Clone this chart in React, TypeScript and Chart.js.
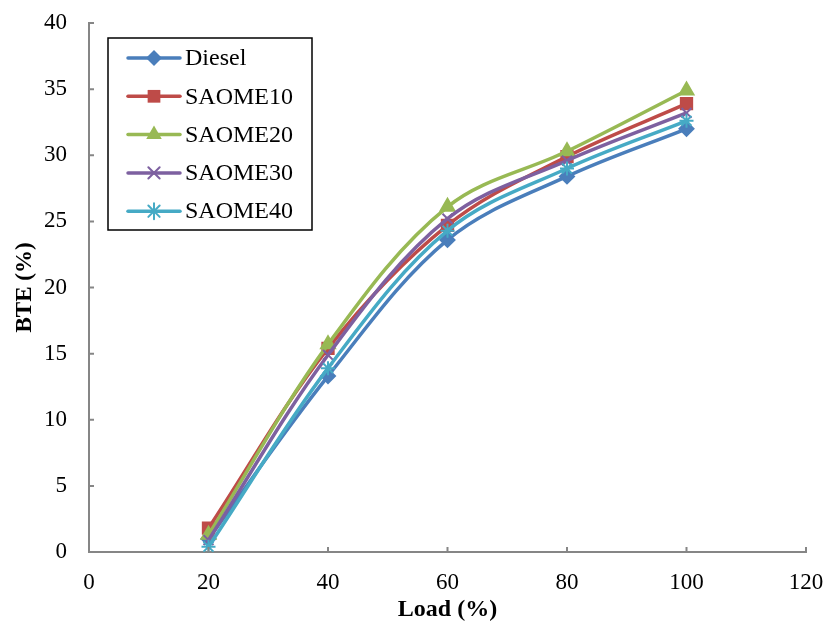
import React, { useEffect, useRef } from "react";
import { Chart, registerables } from "chart.js";

Chart.register(...registerables);

const loads = [20, 40, 60, 80, 100];
const diesel = [1.0, 13.3, 23.6, 28.4, 32.0];
const saome10 = [1.8, 15.4, 24.7, 29.9, 33.9];
const saome20 = [1.3, 15.7, 26.1, 30.3, 34.9];
const saome30 = [0.9, 14.9, 25.2, 29.6, 33.2];
const saome40 = [0.4, 13.9, 24.3, 29.0, 32.6];

const seriesNames = ["Diesel", "SAOME10", "SAOME20", "SAOME30", "SAOME40"];
const seriesValues = [diesel, saome10, saome20, saome30, saome40];
const seriesColors = ["#4A7EBB", "#BE4B48", "#98B954", "#7D60A0", "#46AAC5"];
const seriesStyles = ["rectRot", "rect", "triangle", "crossRot", "star"];
const seriesRadius = [7, 8, 8, 7, 7];

const xTicks = [0, 20, 40, 60, 80, 100, 120];
const yTicks = [0, 5, 10, 15, 20, 25, 30, 35, 40];

const FONT = "'Liberation Serif', 'Times New Roman', serif";
const AXIS_COLOR = "#868686";

function drawMarker(ctx: CanvasRenderingContext2D, style: string, x: number, y: number, r: number, color: string) {
  ctx.save();
  ctx.fillStyle = color;
  ctx.strokeStyle = color;
  ctx.lineWidth = 2;
  ctx.beginPath();
  if (style === "rectRot") {
    ctx.moveTo(x, y - r);
    ctx.lineTo(x + r, y);
    ctx.lineTo(x, y + r);
    ctx.lineTo(x - r, y);
    ctx.closePath();
    ctx.fill();
  } else if (style === "rect") {
    const s = r * Math.SQRT1_2;
    ctx.rect(x - s, y - s, 2 * s, 2 * s);
    ctx.fill();
  } else if (style === "triangle") {
    ctx.moveTo(x, y - r);
    ctx.lineTo(x + r * 0.866, y + r * 0.5);
    ctx.lineTo(x - r * 0.866, y + r * 0.5);
    ctx.closePath();
    ctx.fill();
  } else if (style === "crossRot") {
    const d = r * Math.SQRT1_2;
    ctx.moveTo(x - d, y - d);
    ctx.lineTo(x + d, y + d);
    ctx.moveTo(x + d, y - d);
    ctx.lineTo(x - d, y + d);
    ctx.stroke();
  } else if (style === "star") {
    const d = r * Math.SQRT1_2;
    ctx.moveTo(x - d, y - d);
    ctx.lineTo(x + d, y + d);
    ctx.moveTo(x + d, y - d);
    ctx.lineTo(x - d, y + d);
    ctx.moveTo(x, y - r);
    ctx.lineTo(x, y + r);
    ctx.stroke();
  }
  ctx.restore();
}

const decorPlugin = {
  id: "decor",
  afterDraw(chart: any) {
    const ctx: CanvasRenderingContext2D = chart.ctx;
    const xs = chart.scales.x;
    const ys = chart.scales.y;
    const area = chart.chartArea;
    ctx.save();
    ctx.strokeStyle = AXIS_COLOR;
    ctx.lineWidth = 2;
    ctx.beginPath();
    xTicks.forEach((v) => {
      const px = xs.getPixelForValue(v);
      ctx.moveTo(px, area.bottom);
      ctx.lineTo(px, area.bottom - 5);
    });
    yTicks.forEach((v) => {
      const py = ys.getPixelForValue(v);
      ctx.moveTo(area.left, py);
      ctx.lineTo(area.left + 5, py);
    });
    ctx.stroke();

    // legend box
    const bx = 108, by = 38, bw = 204, bh = 192;
    ctx.fillStyle = "#ffffff";
    ctx.fillRect(bx, by, bw, bh);
    ctx.strokeStyle = "#000000";
    ctx.lineWidth = 1.5;
    ctx.strokeRect(bx, by, bw, bh);
    ctx.font = "24px " + FONT;
    ctx.textBaseline = "middle";
    ctx.textAlign = "left";
    seriesNames.forEach((name, i) => {
      const cy = 58 + i * 38.3;
      ctx.strokeStyle = seriesColors[i];
      ctx.lineWidth = 3.5;
      ctx.lineCap = "round";
      ctx.beginPath();
      ctx.moveTo(128, cy);
      ctx.lineTo(180, cy);
      ctx.stroke();
      drawMarker(ctx, seriesStyles[i], 154, cy, seriesRadius[i] + 1, seriesColors[i]);
      ctx.fillStyle = "#000000";
      ctx.fillText(name, 185, cy + 1);
    });
    ctx.restore();
  },
};

export default function App() {
  const ref = useRef<HTMLCanvasElement>(null);
  useEffect(() => {
    if (!ref.current) return;
    const datasets = seriesNames.map((name, i) => ({
      label: name,
      data: loads.map((x, j) => ({ x, y: seriesValues[i][j] })),
      borderColor: seriesColors[i],
      backgroundColor: seriesColors[i],
      borderWidth: 3.5,
      pointStyle: seriesStyles[i],
      pointRadius: seriesRadius[i],
      pointBorderWidth: 2,
      pointBackgroundColor: seriesColors[i],
      pointBorderColor: seriesColors[i],
      tension: 0.35,
      order: seriesNames.length - i,
    }));
    const chart = new Chart(ref.current, {
      type: "scatter",
      data: { datasets },
      options: {
        responsive: false,
        animation: false,
        showLine: true,
        layout: { padding: { left: 0, top: 23, right: 21, bottom: 0 } },
        plugins: { legend: { display: false }, tooltip: { enabled: false } },
        scales: {
          x: {
            type: "linear",
            min: 0,
            max: 120,
            afterBuildTicks: (s: any) => {
              s.ticks = xTicks.map((v) => ({ value: v }));
            },
            afterFit: (s: any) => {
              s.height = 72;
              s.paddingLeft = 0;
              s.paddingRight = 0;
            },
            grid: { display: false, drawTicks: false },
            border: { display: true, color: AXIS_COLOR, width: 2 },
            ticks: {
              color: "#000",
              font: { family: FONT, size: 23 },
              padding: 17,
              maxRotation: 0,
            },
            title: {
              display: true,
              text: "Load (%)",
              color: "#000",
              font: { family: FONT, size: 24, weight: "bold" },
              padding: 0,
            },
          },
          y: {
            type: "linear",
            min: 0,
            max: 40,
            afterBuildTicks: (s: any) => {
              s.ticks = yTicks.map((v) => ({ value: v }));
            },
            afterFit: (s: any) => {
              s.width = 89;
              s.paddingTop = 0;
              s.paddingBottom = 0;
            },
            grid: { display: false, drawTicks: false },
            border: { display: true, color: AXIS_COLOR, width: 2 },
            ticks: {
              color: "#000",
              font: { family: FONT, size: 23 },
              padding: 22,
            },
            title: {
              display: true,
              text: "BTE (%)",
              color: "#000",
              font: { family: FONT, size: 23, weight: "bold" },
              padding: 11,
            },
          },
        },
      },
      plugins: [decorPlugin],
    });
    return () => chart.destroy();
  }, []);
  return (
    <div style={{ position: "absolute", left: 0, top: 0, width: 827, height: 624, background: "#fff" }}>
      <canvas ref={ref} width={827} height={624} />
    </div>
  );
}
